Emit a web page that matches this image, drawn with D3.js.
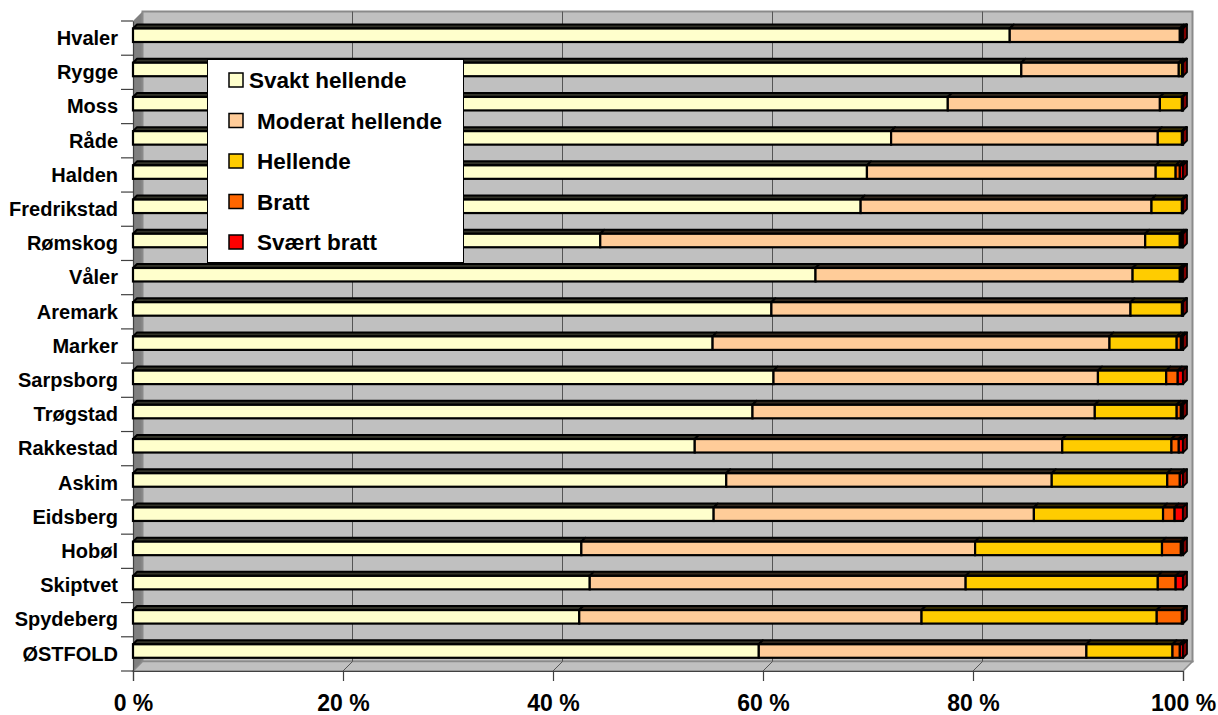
<!DOCTYPE html>
<html>
<head>
<meta charset="utf-8">
<script src="https://cdn.jsdelivr.net/npm/d3@7/dist/d3.min.js"></script>
<style>
  html, body { margin: 0; padding: 0; background: #ffffff; }
  svg { display: block; }
  text { font-family: Arial, "Liberation Sans", sans-serif; font-weight: bold; fill: #000; }
</style>
</head>
<body>
<svg id="chart" width="1218" height="715"></svg>
<script>
// Kommuner i Østfold, andel areal etter hellingsklasse (prosent)
const categories = ["Hvaler", "Rygge", "Moss", "Råde", "Halden", "Fredrikstad", "Rømskog",
  "Våler", "Aremark", "Marker", "Sarpsborg", "Trøgstad", "Rakkestad", "Askim", "Eidsberg",
  "Hobøl", "Skiptvet", "Spydeberg", "ØSTFOLD"];

const svaktHellende   = [83.5, 84.6, 77.6, 72.2, 69.9, 69.3, 44.5, 65.0, 60.8, 55.2, 61.0, 59.0, 53.5, 56.5, 55.3, 42.7, 43.5, 42.5, 59.6];
const moderatHellende = [16.2, 15.0, 20.2, 25.4, 27.5, 27.7, 51.9, 30.2, 34.2, 37.8, 30.9, 32.6, 35.0, 31.0, 30.5, 37.5, 35.8, 32.6, 31.2];
const hellende        = [0.2, 0.3, 2.1, 2.3, 1.9, 2.9, 3.3, 4.5, 4.9, 6.4, 6.5, 7.8, 10.4, 11.0, 12.3, 17.8, 18.3, 22.4, 8.2];
const bratt           = [0.05, 0.05, 0.05, 0.05, 0.4, 0.05, 0.2, 0.2, 0.05, 0.4, 1.1, 0.4, 0.7, 1.2, 1.1, 1.8, 1.7, 2.4, 0.7];
const svaertBratt     = [0.05, 0.05, 0.05, 0.05, 0.3, 0.05, 0.1, 0.1, 0.05, 0.2, 0.5, 0.2, 0.4, 0.3, 0.8, 0.2, 0.7, 0.1, 0.3];

const seriesNames = ["Svakt hellende", "Moderat hellende", "Hellende", "Bratt", "Svært bratt"];
const seriesColors = ["#FFFFCC", "#FFCC99", "#FFCC00", "#FF6600", "#FF0000"];
const xTicks = [0, 20, 40, 60, 80, 100];

const seriesValues = [svaktHellende, moderatHellende, hellende, bratt, svaertBratt];
const rows = categories.map((c, i) => {
  const r = { kommune: c };
  seriesNames.forEach((s, k) => { r[s] = seriesValues[k][i]; });
  return r;
});
const stacked = d3.stack().keys(seriesNames)(rows);

const svg = d3.select("#chart");

// Scales: front plane of the 3D box
const x = d3.scaleLinear().domain([0, 100]).range([133, 1183]);
const y = d3.scaleBand().domain(categories).range([21, 671]);
const wallDepth = 9.5;   // offset of back wall
const barDepth = 4;      // depth of each bar
const barTop = 7.5, barH = 13.5;

const [yTop, yBot] = y.range();
const [xL, xR] = x.range();

// Walls and floor
const walls = svg.append("g");
walls.append("polygon")
  .attr("points", [[xL, yTop], [xL + wallDepth, yTop - wallDepth], [xL + wallDepth, yBot - wallDepth], [xL, yBot]].join(" "))
  .attr("fill", "#808080");
walls.append("rect")
  .attr("x", xL + wallDepth).attr("y", yTop - wallDepth)
  .attr("width", xR - xL).attr("height", yBot - yTop)
  .attr("fill", "#C0C0C0").attr("stroke", "#8a8a8a").attr("stroke-width", 2);
walls.append("polygon")
  .attr("points", [[xL, yBot], [xL + wallDepth, yBot - wallDepth], [xR + wallDepth, yBot - wallDepth], [xR, yBot]].join(" "))
  .attr("fill", "#C0C0C0").attr("stroke", "#8a8a8a").attr("stroke-width", 1.5);

// Gridlines on back wall and floor
xTicks.filter(v => v > 0 && v < 100).forEach(v => {
  walls.append("line")
    .attr("x1", x(v) + wallDepth).attr("x2", x(v) + wallDepth)
    .attr("y1", yTop - wallDepth).attr("y2", yBot - wallDepth)
    .attr("stroke", "#555").attr("stroke-width", 1);
  walls.append("line")
    .attr("x1", x(v) + wallDepth).attr("x2", x(v))
    .attr("y1", yBot - wallDepth).attr("y2", yBot)
    .attr("stroke", "#555").attr("stroke-width", 1);
});

// Category axis
const yAxis = svg.append("g").attr("transform", `translate(${xL},0)`)
  .call(d3.axisLeft(y).tickSize(0).tickPadding(15));
yAxis.select(".domain").attr("stroke", "#404040").attr("stroke-width", 1.2);
yAxis.selectAll("text").style("font-size", "20px").attr("dy", "0.34em");
// boundary ticks between categories
const bounds = categories.map(c => y(c)).concat([yBot]);
svg.append("g").selectAll("line").data(bounds).join("line")
  .attr("x1", xL - 12).attr("x2", xL).attr("y1", d => d).attr("y2", d => d)
  .attr("stroke", "#404040").attr("stroke-width", 1.2);

// Value axis
const xAxis = svg.append("g").attr("transform", `translate(0,${yBot})`)
  .call(d3.axisBottom(x).tickValues(xTicks).tickFormat(d => d + " %").tickSize(10).tickPadding(14));
xAxis.select(".domain").attr("stroke", "#404040").attr("stroke-width", 1.2);
xAxis.selectAll(".tick line").attr("stroke", "#404040").attr("stroke-width", 1.2);
xAxis.selectAll("text").style("font-size", "23px");

// Bars drawn as 3D boxes
const bars = svg.append("g");
categories.forEach((cat, i) => {
  const g = bars.append("g");
  const fy = y(cat) + barTop;
  const segs = stacked.map((layer, k) => ({ k, x0: x(layer[i][0]), x1: x(layer[i][1]) }));
  // top faces
  g.selectAll("polygon.top").data(segs).join("polygon")
    .attr("class", "top")
    .attr("points", d => [[d.x0, fy], [d.x0 + barDepth, fy - barDepth], [d.x1 + barDepth, fy - barDepth], [d.x1, fy]].join(" "))
    .attr("fill", d => d3.color(seriesColors[d.k]).darker(4.5))
    .attr("stroke", "#000").attr("stroke-width", 2).attr("stroke-linejoin", "round");
  // front faces
  g.selectAll("rect.front").data(segs).join("rect")
    .attr("class", "front")
    .attr("x", d => d.x0).attr("y", fy)
    .attr("width", d => Math.max(0, d.x1 - d.x0)).attr("height", barH)
    .attr("fill", d => seriesColors[d.k])
    .attr("stroke", "#000").attr("stroke-width", 2.2);
  // end cap
  const last = segs[segs.length - 1];
  g.append("polygon")
    .attr("points", [[last.x1, fy], [last.x1 + barDepth, fy - barDepth], [last.x1 + barDepth, fy + barH - barDepth], [last.x1, fy + barH]].join(" "))
    .attr("fill", d3.color(seriesColors[last.k]).darker(2))
    .attr("stroke", "#000").attr("stroke-width", 1.8).attr("stroke-linejoin", "round");
});

// Legend
const legend = svg.append("g");
legend.append("rect")
  .attr("x", 207.5).attr("y", 59.5).attr("width", 256).attr("height", 203)
  .attr("fill", "#fff").attr("stroke", "#000").attr("stroke-width", 1);
const items = legend.selectAll("g.item").data(seriesNames).join("g")
  .attr("class", "item")
  .attr("transform", (d, k) => `translate(0,${80 + k * 40.5})`);
items.append("rect")
  .attr("x", 229).attr("y", -7).attr("width", 14).attr("height", 14)
  .attr("fill", (d, k) => seriesColors[k]).attr("stroke", "#000").attr("stroke-width", 1.5);
items.append("text")
  .attr("x", (d, k) => k === 0 ? 249 : 257).attr("y", 8)
  .style("font-size", "22.5px")
  .text(d => d);
</script>
</body>
</html>
